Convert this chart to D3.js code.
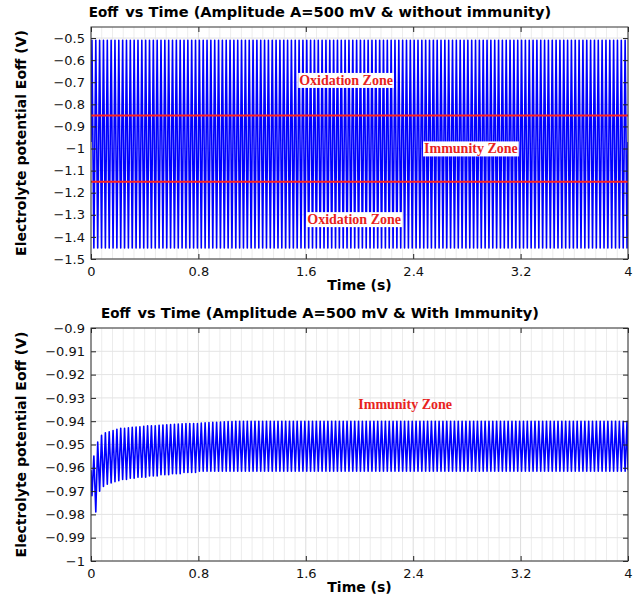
<!DOCTYPE html>
<html>
<head>
<meta charset="utf-8">
<script src="https://cdn.jsdelivr.net/npm/d3@7"></script>
<style>
  body { margin: 0; background: #fff; }
  svg { display: block; font-family: "DejaVu Sans", sans-serif; }
  .tick text { font-size: 13px; fill: #111; }
  .zone { font-family: "Liberation Serif", serif; font-weight: bold; font-size: 14px; fill: #e8231d; }
</style>
</head>
<body>
<svg id="chart" width="640" height="597"></svg>
<script>
// shared x axis
const xTicks = [0, 0.8, 1.6, 2.4, 3.2, 4];
const timeEnd = 4;
const cycleCount = 140;

// top panel: without immunity
const topTicks = [-0.5, -0.6, -0.7, -0.8, -0.9, -1, -1.1, -1.2, -1.3, -1.4, -1.5];
const topStart = -0.97;
const topPeak = -0.51;
const topTrough = -1.45;
const topLimits = [-0.85, -1.15];

const bottomTicks = [-0.9, -0.91, -0.92, -0.93, -0.94, -0.95, -0.96, -0.97, -0.98, -0.99, -1];
const bottomStart = -0.961;
const bottomTroughs = [-0.972, -0.979, -0.970, -0.968, -0.967, -0.9665, -0.966, -0.9655, -0.965, -0.965,
  -0.9645, -0.9645, -0.964, -0.964, -0.964, -0.9635, -0.9635, -0.9635, -0.963, -0.963,
  -0.963, -0.9625, -0.9625, -0.9625, -0.962, -0.962, -0.962, -0.962];
const bottomPeaks = [-0.955, -0.949, -0.946, -0.945, -0.9445, -0.944, -0.9435, -0.943, -0.943, -0.9428,
  -0.9426, -0.9425, -0.9424, -0.9422, -0.942, -0.942, -0.942, -0.9418, -0.9416, -0.9415,
  -0.9414, -0.9413, -0.9412, -0.9411, -0.941, -0.941, -0.941, -0.941, -0.9408, -0.9407,
  -0.9406, -0.9405, -0.9405, -0.9404, -0.9403, -0.9402, -0.9401];
const bottomTroughSteady = -0.9615;
const bottomPeakSteady = -0.940;

const svg = d3.select("#chart");

function buildSeries(start, peaks, troughs, peakFirst) {
  const pts = [{t: 0, v: start}];
  for (let i = 0; i < cycleCount; i++) {
    const a = peakFirst ? peaks(i) : troughs(i);
    const b = peakFirst ? troughs(i) : peaks(i);
    pts.push({t: (i + 0.25) * timeEnd / cycleCount, v: a});
    pts.push({t: (i + 0.75) * timeEnd / cycleCount, v: b});
  }
  pts.push({t: timeEnd, v: start});
  return pts;
}

const topSeries = buildSeries(topStart, () => topPeak, () => topTrough, true);
const bottomSeries = buildSeries(bottomStart,
  i => i < bottomPeaks.length ? bottomPeaks[i] : bottomPeakSteady,
  i => i < bottomTroughs.length ? bottomTroughs[i] : bottomTroughSteady, false);

function drawPanel(cfg) {
  const left = 91, right = 628;
  const x = d3.scaleLinear().domain([0, timeEnd]).range([left, right]);
  const y = d3.scaleLinear().domain(cfg.domain).range([cfg.bottom, cfg.top]);
  const g = svg.append("g");

  g.append("clipPath").attr("id", cfg.id + "-clip")
    .append("rect")
    .attr("x", left).attr("y", cfg.top)
    .attr("width", right - left).attr("height", cfg.bottom - cfg.top);

  // minor vertical grid
  const minor = d3.range(0, 51).map(i => i * 0.08);
  g.selectAll(".vgrid").data(minor).enter().append("line")
    .attr("x1", d => x(d)).attr("x2", d => x(d))
    .attr("y1", cfg.top).attr("y2", cfg.bottom)
    .attr("stroke", d => xTicks.some(t => Math.abs(t - d) < 1e-9) ? "#dcdcdc" : "#ececec")
    .attr("stroke-width", 1);
  // horizontal grid at major ticks
  g.selectAll(".hgrid").data(cfg.ticks).enter().append("line")
    .attr("x1", left).attr("x2", right)
    .attr("y1", d => y(d)).attr("y2", d => y(d))
    .attr("stroke", "#e4e4e4").attr("stroke-width", 1);

  const line = d3.line().x(d => x(d.t)).y(d => y(d.v));
  g.append("path")
    .datum(cfg.series)
    .attr("clip-path", `url(#${cfg.id}-clip)`)
    .attr("fill", "none")
    .attr("stroke", "#0000ff")
    .attr("stroke-width", 1.6)
    .attr("stroke-linejoin", "round")
    .attr("d", line);

  if (cfg.limits) {
    g.selectAll(".limit").data(cfg.limits).enter().append("line")
      .attr("x1", left).attr("x2", right)
      .attr("y1", d => y(d)).attr("y2", d => y(d))
      .attr("stroke", "#ff2020").attr("stroke-width", 2);
  }

  // zone labels
  cfg.zones.forEach(z => {
    const tx = g.append("text").attr("class", "zone")
      .attr("x", x(z.t)).attr("y", y(z.v))
      .attr("text-anchor", "middle").attr("dy", "0.35em")
      .text(z.label);
    if (cfg.limits) {
      const bb = tx.node().getBBox();
      g.insert("rect", "text.zone")
        .attr("x", bb.x - 1).attr("y", bb.y)
        .attr("width", bb.width + 2).attr("height", bb.height)
        .attr("fill", "#fff");
    }
  });

  // axes, ticks inward
  const xAxis = d3.axisBottom(x).tickValues(xTicks).tickSize(-5).tickPadding(8).tickFormat(d3.format("~g"));
  const yAxis = d3.axisLeft(y).tickValues(cfg.ticks).tickSize(-5).tickPadding(6).tickFormat(d3.format("~g"));
  g.append("g").attr("transform", `translate(0,${cfg.bottom})`).call(xAxis)
    .call(a => a.select(".domain").remove());
  g.append("g").attr("transform", `translate(${left},0)`).call(yAxis)
    .call(a => a.select(".domain").remove());
  g.append("g").attr("transform", `translate(0,${cfg.top})`)
    .call(d3.axisTop(x).tickValues(xTicks).tickSize(-5).tickFormat(""))
    .call(a => a.select(".domain").remove());
  g.append("g").attr("transform", `translate(${right},0)`)
    .call(d3.axisRight(y).tickValues(cfg.ticks).tickSize(-5).tickFormat(""))
    .call(a => a.select(".domain").remove());
  g.selectAll(".tick line").attr("stroke", "#222");
  g.selectAll(".tick text").attr("font-family", "DejaVu Sans, sans-serif");

  g.append("rect")
    .attr("x", left).attr("y", cfg.top)
    .attr("width", right - left).attr("height", cfg.bottom - cfg.top)
    .attr("fill", "none").attr("stroke", "#333").attr("stroke-width", 1);

  // title
  const title = g.append("text")
    .attr("x", cfg.titleX).attr("y", cfg.top - 10)
    .attr("text-anchor", "middle")
    .attr("font-weight", "bold").attr("font-size", 14.6);
  title.append("tspan").attr("font-size", 13.5).text("Eoff");
  title.append("tspan").attr("dx", 7).text(cfg.title);

  g.append("text")
    .attr("x", (left + right) / 2).attr("y", cfg.bottom + 31)
    .attr("text-anchor", "middle")
    .attr("font-weight", "bold").attr("font-size", 14)
    .text("Time (s)");

  g.append("text")
    .attr("transform", `translate(26,${(cfg.top + cfg.bottom) / 2}) rotate(-90)`)
    .attr("text-anchor", "middle")
    .attr("font-weight", "bold").attr("font-size", 14)
    .text("Electrolyte potential Eoff (V)");
}

drawPanel({
  id: "top", top: 27, bottom: 259, domain: [-1.5, -0.45],
  ticks: topTicks, series: topSeries, limits: topLimits,
  titleX: 320,
  title: "vs Time (Amplitude A=500 mV & without immunity)",
  zones: [
    {label: "Oxidation Zone", t: 1.9, v: -0.69},
    {label: "Immunity Zone", t: 2.83, v: -1.0},
    {label: "Oxidation Zone", t: 1.96, v: -1.32}
  ]
});

drawPanel({
  id: "bottom", top: 328, bottom: 561, domain: [-1, -0.9],
  ticks: bottomTicks, series: bottomSeries, limits: null,
  titleX: 320,
  title: "vs Time (Amplitude A=500 mV & With Immunity)",
  zones: [
    {label: "Immunity Zone", t: 2.34, v: -0.9325}
  ]
});
</script>
</body>
</html>
